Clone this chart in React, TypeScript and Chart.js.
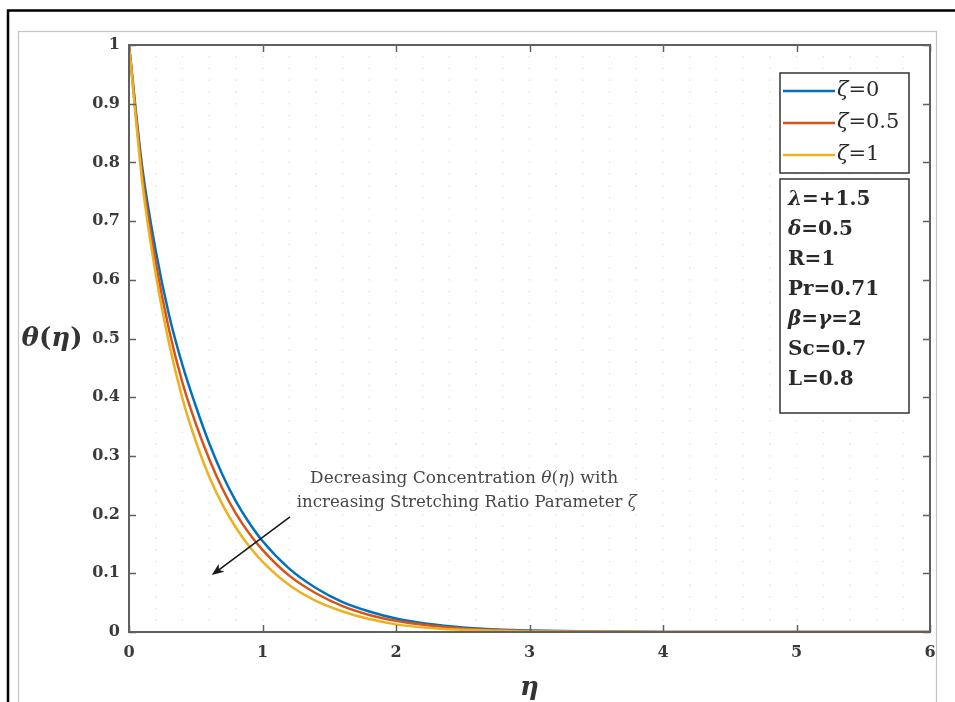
import React, { useEffect, useRef } from "react";
import { Chart, registerables } from "chart.js";
Chart.register(...registerables);

// ---------- data ----------
const eta = [0, 0.1, 0.2, 0.3, 0.4, 0.5, 0.6, 0.7, 0.8, 0.9, 1.0, 1.2, 1.4, 1.6, 1.8, 2.0, 2.25, 2.5, 2.75, 3.0, 3.5, 4.0, 5.0, 6.0];
const thetaZeta0 = [1, 0.79, 0.65, 0.54, 0.455, 0.385, 0.322, 0.268, 0.223, 0.186, 0.155, 0.108, 0.075, 0.051, 0.035, 0.023, 0.0135, 0.0078, 0.0044, 0.0025, 0.0008, 0.0002, 0, 0];
const thetaZeta05 = [1, 0.778, 0.63, 0.515, 0.425, 0.355, 0.295, 0.244, 0.202, 0.168, 0.14, 0.096, 0.066, 0.044, 0.029, 0.019, 0.011, 0.006, 0.0033, 0.0018, 0.0005, 0.0001, 0, 0];
const thetaZeta1 = [1, 0.765, 0.61, 0.492, 0.398, 0.325, 0.265, 0.217, 0.178, 0.146, 0.12, 0.08, 0.053, 0.035, 0.022, 0.013, 0.007, 0.004, 0.002, 0.001, 0.0003, 0.0001, 0, 0];
const seriesValues = [thetaZeta0, thetaZeta05, thetaZeta1];
const seriesLabels = ["ζ=0", "ζ=0.5", "ζ=1"];
const seriesColors = ["#0072BD", "#D95319", "#EDB120"];

const xTicks = [0, 1, 2, 3, 4, 5, 6];
const yTicks = [0, 0.1, 0.2, 0.3, 0.4, 0.5, 0.6, 0.7, 0.8, 0.9, 1];
const yTickLabels = ["0", "0.1", "0.2", "0.3", "0.4", "0.5", "0.6", "0.7", "0.8", "0.9", "1"];

type Run = { t: string; i?: boolean };
const paramLines: Run[][] = [
  [{ t: "λ", i: true }, { t: "=+1.5" }],
  [{ t: "δ", i: true }, { t: "=0.5" }],
  [{ t: "R=1" }],
  [{ t: "Pr=0.71" }],
  [{ t: "β", i: true }, { t: "=" }, { t: "γ", i: true }, { t: "=2" }],
  [{ t: "Sc=0.7" }],
  [{ t: "L=0.8" }],
];
const annotationLines: Run[][] = [
  [{ t: "Decreasing Concentration " }, { t: "θ", i: true }, { t: "(" }, { t: "η", i: true }, { t: ") with" }],
  [{ t: "increasing Stretching Ratio Parameter " }, { t: "ζ", i: true }],
];
const xTitle: Run[] = [{ t: "η", i: true }];
const yTitle: Run[] = [{ t: "θ", i: true }, { t: "(" }, { t: "η", i: true }, { t: ")" }];

const SERIF = "'DejaVu Serif', 'Liberation Serif', serif";

function font(size: number, bold: boolean, italic: boolean, fam = SERIF) {
  return `${italic ? "italic " : ""}${bold ? "bold " : ""}${size}px ${fam}`;
}

function runsWidth(ctx: CanvasRenderingContext2D, runs: Run[], size: number, bold: boolean, fam = SERIF) {
  let w = 0;
  for (const r of runs) {
    ctx.font = font(size, bold, !!r.i, fam);
    w += ctx.measureText(r.t).width;
  }
  return w;
}

function drawRuns(
  ctx: CanvasRenderingContext2D,
  runs: Run[],
  x: number,
  y: number,
  size: number,
  bold: boolean,
  color: string,
  align: "left" | "center",
  targetWidth?: number,
  fam = SERIF
) {
  const w = runsWidth(ctx, runs, size, bold, fam);
  const sx = targetWidth ? targetWidth / w : 1;
  ctx.save();
  ctx.translate(x, y);
  ctx.scale(sx, 1);
  let cx = align === "center" ? -w / 2 : 0;
  ctx.fillStyle = color;
  ctx.textBaseline = "middle";
  ctx.textAlign = "left";
  for (const r of runs) {
    ctx.font = font(size, bold, !!r.i, fam);
    ctx.fillText(r.t, cx, 0);
    cx += ctx.measureText(r.t).width;
  }
  ctx.restore();
}

const decorPlugin = {
  id: "decor",
  beforeDraw(chart: any) {
    const ctx: CanvasRenderingContext2D = chart.ctx;
    ctx.save();
    ctx.fillStyle = "#ffffff";
    ctx.fillRect(0, 0, chart.width, chart.height);
    // outer black frame
    ctx.strokeStyle = "#000000";
    ctx.lineWidth = 2.5;
    ctx.strokeRect(8, 10.5, 2000, 2000);
    // inner grey frame
    ctx.strokeStyle = "#c4c4c4";
    ctx.lineWidth = 1.2;
    ctx.strokeRect(18.5, 31.5, 918, 2000);
    ctx.restore();
  },
  beforeDatasetsDraw(chart: any) {
    const ctx: CanvasRenderingContext2D = chart.ctx;
    const xs = chart.scales.x;
    const ys = chart.scales.y;
    ctx.save();
    ctx.fillStyle = "#e6e6e6";
    for (let i = 1; i < 30; i++) {
      const px = xs.getPixelForValue(i * 0.2);
      for (let j = 1; j < 50; j++) {
        const py = ys.getPixelForValue(j * 0.02);
        ctx.fillRect(px - 0.75, py - 0.75, 1.5, 1.5);
      }
    }
    ctx.restore();
  },
  afterDatasetsDraw(chart: any) {
    const ctx: CanvasRenderingContext2D = chart.ctx;
    const a = chart.chartArea;
    const xs = chart.scales.x;
    const ys = chart.scales.y;
    ctx.save();
    // axes box
    ctx.strokeStyle = "#606060";
    ctx.lineWidth = 2;
    ctx.strokeRect(a.left, a.top, a.right - a.left, a.bottom - a.top);
    ctx.lineWidth = 1.5;
    const tl = 7;
    ctx.beginPath();
    for (const v of xTicks) {
      const px = Math.round(xs.getPixelForValue(v)) + 0.5;
      ctx.moveTo(px, a.bottom);
      ctx.lineTo(px, a.bottom - tl);
      ctx.moveTo(px, a.top);
      ctx.lineTo(px, a.top + tl);
    }
    for (const v of yTicks) {
      const py = Math.round(ys.getPixelForValue(v)) + 0.5;
      ctx.moveTo(a.left, py);
      ctx.lineTo(a.left + tl, py);
      ctx.moveTo(a.right, py);
      ctx.lineTo(a.right - tl, py);
    }
    ctx.stroke();

    // axis titles
    drawRuns(ctx, xTitle, (a.left + a.right) / 2, 688, 26, true, "#333333", "center");
    drawRuns(ctx, yTitle, 52, 339, 26, true, "#333333", "center", 61);

    // legend box
    const lx = a.right - 150;
    const lw = 129;
    const ly = a.top + 28;
    const lh = 100;
    ctx.fillStyle = "#ffffff";
    ctx.fillRect(lx, ly, lw, lh);
    ctx.strokeStyle = "#333333";
    ctx.lineWidth = 1.5;
    ctx.strokeRect(lx, ly, lw, lh);
    seriesLabels.forEach((lab, k) => {
      const yy = ly + 18 + k * 32;
      ctx.strokeStyle = seriesColors[k];
      ctx.lineWidth = 2.5;
      ctx.beginPath();
      ctx.moveTo(lx + 3, yy);
      ctx.lineTo(lx + 55, yy);
      ctx.stroke();
      drawRuns(ctx, [{ t: "ζ", i: true }, { t: lab.slice(1) }], lx + 57, yy, 21, false, "#2a2a2a", "left");
    });

    // parameter box
    const py0 = a.top + 134;
    const ph = 234;
    ctx.fillStyle = "#ffffff";
    ctx.fillRect(lx, py0, lw, ph);
    ctx.strokeStyle = "#333333";
    ctx.lineWidth = 1.5;
    ctx.strokeRect(lx, py0, lw, ph);
    paramLines.forEach((runs, k) => {
      drawRuns(ctx, runs, lx + 8, py0 + 21 + k * 30, 20, true, "#2a2a2a", "left");
    });

    // annotation
    drawRuns(ctx, annotationLines[0], xs.getPixelForValue(2.51), ys.getPixelForValue(0.262), 17, false, "#474747", "center", 308);
    drawRuns(ctx, annotationLines[1], xs.getPixelForValue(2.53), ys.getPixelForValue(0.22), 17, false, "#474747", "center", 340);

    // arrow
    const x1 = xs.getPixelForValue(1.206);
    const y1 = ys.getPixelForValue(0.196);
    const x2 = xs.getPixelForValue(0.62);
    const y2 = ys.getPixelForValue(0.097);
    const ang = Math.atan2(y2 - y1, x2 - x1);
    ctx.strokeStyle = "#1a1a1a";
    ctx.fillStyle = "#1a1a1a";
    ctx.lineWidth = 1.6;
    ctx.beginPath();
    ctx.moveTo(x1, y1);
    ctx.lineTo(x2 - 8 * Math.cos(ang), y2 - 8 * Math.sin(ang));
    ctx.stroke();
    ctx.beginPath();
    ctx.moveTo(x2, y2);
    ctx.lineTo(x2 - 13 * Math.cos(ang - 0.38), y2 - 13 * Math.sin(ang - 0.38));
    ctx.lineTo(x2 - 9 * Math.cos(ang), y2 - 9 * Math.sin(ang));
    ctx.lineTo(x2 - 13 * Math.cos(ang + 0.38), y2 - 13 * Math.sin(ang + 0.38));
    ctx.closePath();
    ctx.fill();
    ctx.restore();
  },
};

export default function App() {
  const ref = useRef<HTMLCanvasElement | null>(null);
  useEffect(() => {
    if (!ref.current) return;
    const chart = new Chart(ref.current, {
      type: "line",
      data: {
        datasets: seriesValues.map((vals, k) => ({
          label: seriesLabels[k],
          data: eta.map((e, i) => ({ x: e, y: vals[i] })),
          borderColor: seriesColors[k],
          backgroundColor: seriesColors[k],
          borderWidth: 2.5,
          pointRadius: 0,
          cubicInterpolationMode: "monotone" as const,
          fill: false,
          order: 3 - k,
        })),
      },
      options: {
        responsive: false,
        animation: false,
        events: [],
        layout: { padding: { left: 0, right: 25, top: 45, bottom: 0 } },
        plugins: { legend: { display: false }, tooltip: { enabled: false } },
        scales: {
          x: {
            type: "linear",
            min: 0,
            max: 6,
            afterBuildTicks: (s: any) => {
              s.ticks = xTicks.map((v) => ({ value: v }));
            },
            afterFit: (s: any) => {
              s.height = 70;
            },
            grid: { display: false, drawTicks: false },
            border: { display: false },
            ticks: {
              padding: 11,
              color: "#3a3a3a",
              font: { family: SERIF, size: 16, weight: "bold" },
              callback: (v: any) => String(v),
              maxRotation: 0,
            },
          },
          y: {
            type: "linear",
            min: 0,
            max: 1,
            afterBuildTicks: (s: any) => {
              s.ticks = yTicks.map((v) => ({ value: v }));
            },
            afterFit: (s: any) => {
              s.width = 129;
            },
            grid: { display: false, drawTicks: false },
            border: { display: false },
            ticks: {
              padding: 9,
              color: "#3a3a3a",
              font: { family: SERIF, size: 16, weight: "bold" },
              callback: (v: any) => {
                const idx = yTicks.findIndex((t) => Math.abs(t - Number(v)) < 1e-9);
                return idx >= 0 ? yTickLabels[idx] : "";
              },
            },
          },
        },
      },
      plugins: [decorPlugin],
    } as any);
    return () => chart.destroy();
  }, []);
  return (
    <div style={{ position: "absolute", left: 0, top: 0, width: 955, height: 702 }}>
      <canvas ref={ref} width={955} height={702} style={{ display: "block", width: 955, height: 702 }} />
    </div>
  );
}
